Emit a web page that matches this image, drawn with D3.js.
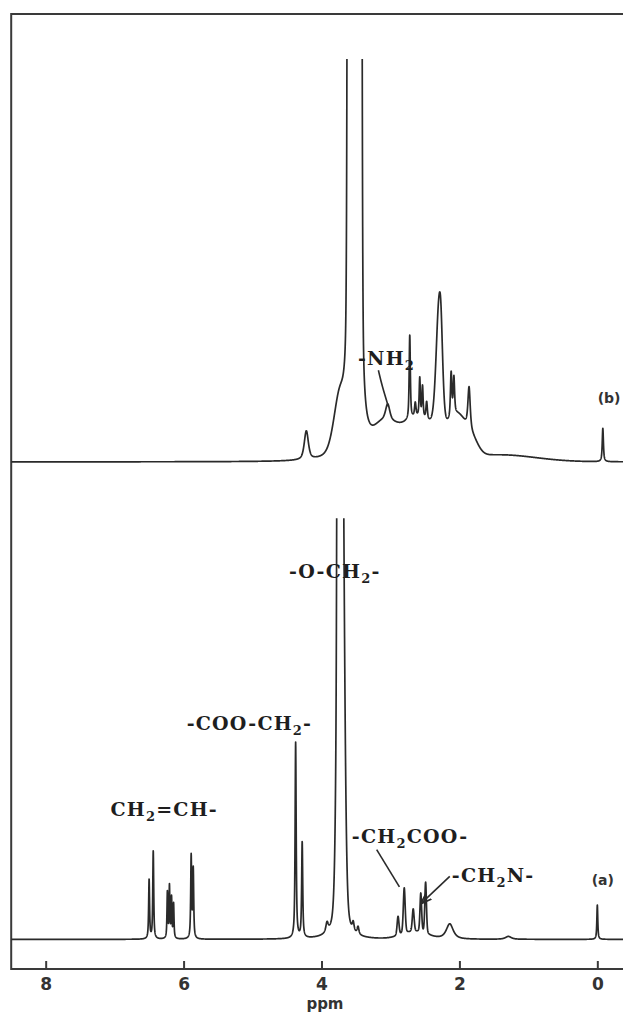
<!DOCTYPE html>
<html>
<head>
<meta charset="utf-8">
<script src="https://cdn.jsdelivr.net/npm/d3@7"></script>
<style>
  html, body { margin: 0; padding: 0; background: #fff; }
  svg { display: block; }
</style>
</head>
<body>
<svg id="chart" width="623" height="1014"></svg>
<script>
// ---- chart data -------------------------------------------------------
const shiftTicks = [8, 6, 4, 2, 0];
const axisTitle = "ppm";
const shiftRange = [8.5, -0.5];          // chemical-shift window of the recorder chart
const intensityRange = [0, 1000];        // arbitrary recorder units, bottom to top of chart

// Trace (a): monomer. Each line: [shift ppm, height, half width ppm, lorentzian fraction]
const peaksA = [
  [6.50, 62, 0.008, 0.8],
  [6.44, 92, 0.008, 0.8],
  [6.235, 48, 0.007, 0.8],
  [6.205, 54, 0.007, 0.8],
  [6.175, 42, 0.007, 0.8],
  [6.145, 36, 0.007, 0.8],
  [5.89, 86, 0.008, 0.8],
  [5.86, 72, 0.008, 0.8],
  [4.375, 205, 0.009, 0.8],
  [4.28, 100, 0.009, 0.8],
  [3.92, 10, 0.02, 0.8],
  [3.775, 240, 0.008, 0.8],
  [3.72, 850, 0.045, 0.2],
  [3.54, 9, 0.015, 0.8],
  [3.47, 8, 0.015, 0.8],
  [2.89, 20, 0.016, 0.3],
  [2.80, 48, 0.016, 0.3],
  [2.67, 24, 0.016, 0.3],
  [2.56, 41, 0.014, 0.3],
  [2.49, 54, 0.014, 0.3],
  [2.65, 7, 0.22, 0],
  [2.14, 16, 0.06, 0.8],
  [1.29, 3, 0.05, 0.8],
  [0.00, 36, 0.008, 0.8]
];
const baselineA = 31;
const ceilingA = 472;

// Trace (b): amine adduct
const peaksB = [
  [4.22, 30, 0.035, 0.6],
  [3.74, 55, 0.1, 0.3],
  [3.45, 5000, 0.02, 0.15],
  [3.52, 5000, 0.02, 0.15],
  [3.59, 5000, 0.02, 0.15],
  [3.10, 32, 0.2, 0],
  [3.04, 16, 0.035, 0.5],
  [2.60, 44, 0.3, 0],
  [2.72, 88, 0.01, 0.7],
  [2.64, 14, 0.012, 0.6],
  [2.575, 40, 0.01, 0.6],
  [2.535, 32, 0.01, 0.6],
  [2.475, 18, 0.012, 0.6],
  [2.31, 95, 0.045, 0.4],
  [2.27, 85, 0.035, 0.4],
  [2.02, 41, 0.16, 0],
  [2.12, 47, 0.012, 0.7],
  [2.08, 39, 0.012, 0.7],
  [1.86, 44, 0.02, 0.7],
  [1.80, 10, 0.1, 0],
  [1.40, 7, 0.6, 0],
  [-0.08, 35, 0.01, 0.8]
];
const baselineB = 531;
const ceilingB = 953;

// Group assignments: text ("_2" = subscript), left edge shift, baseline intensity
const assignments = [
  { text: "CH_2=CH-",   shift: 7.06, level: 160 },
  { text: "-COO-CH_2-", shift: 5.955, level: 250 },
  { text: "-O-CH_2-",   shift: 4.47, level: 409 },
  { text: "-CH_2COO-",  shift: 3.56, level: 132 },
  { text: "-CH_2N-",    shift: 2.11, level: 91 },
  { text: "-NH_2",      shift: 3.47, level: 632 }
];
// Leader lines from label to peak: [shift, intensity] pairs
const leaders = [
  { pts: [[3.175, 627], [3.12, 610], [3.03, 589]], arrow: false },
  { pts: [[3.20, 125], [2.87, 86]], arrow: false },
  { pts: [[2.14, 97], [2.55, 69]], arrow: true }
];
const traceTags = [
  { text: "(a)", shift: -0.08, level: 88 },
  { text: "(b)", shift: -0.17, level: 593 }
];

// ---- drawing ---------------------------------------------------------
const svg = d3.select("#chart");
const ink = "#2a2a2a";

const x = d3.scaleLinear().domain(shiftRange).range([11.2, 631.8]);
const y = d3.scaleLinear().domain(intensityRange).range([969, 14]);

function lineShape(d, w, eta) {
  const r = d / w;
  return eta / (1 + r * r) + (1 - eta) * Math.exp(-Math.LN2 * r * r);
}
function trace(peaks, base) {
  const step = 0.0015;
  const n = Math.round((shiftRange[0] - shiftRange[1]) / step);
  const out = [];
  for (let i = 0; i <= n; i++) {
    const s = shiftRange[0] - i * step;
    let v = base;
    for (const p of peaks) v += p[1] * lineShape(s - p[0], p[2], p[3]);
    out.push([s, v]);
  }
  return out;
}

const defs = svg.append("defs");
[["clipA", ceilingA], ["clipB", ceilingB]].forEach(([id, top]) => {
  defs.append("clipPath").attr("id", id)
    .append("rect")
    .attr("x", x(shiftRange[0])).attr("y", y(top))
    .attr("width", x(shiftRange[1]) - x(shiftRange[0]))
    .attr("height", y(0) - y(top));
});
defs.append("marker").attr("id", "head")
  .attr("viewBox", "0 0 10 10").attr("refX", 9).attr("refY", 5)
  .attr("markerWidth", 7).attr("markerHeight", 7).attr("orient", "auto")
  .append("path").attr("d", "M0,1.5 L10,5 L0,8.5").attr("fill", "none")
  .attr("stroke", ink).attr("stroke-width", 1.6);

// chart frame
svg.append("rect")
  .attr("x", x(shiftRange[0])).attr("y", y(intensityRange[1]))
  .attr("width", x(shiftRange[1]) - x(shiftRange[0]))
  .attr("height", y(intensityRange[0]) - y(intensityRange[1]))
  .attr("fill", "none").attr("stroke", "#3a3a3a").attr("stroke-width", 2);

const line = d3.line().x(d => x(d[0])).y(d => y(d[1]));

svg.append("path").datum(trace(peaksB, baselineB))
  .attr("clip-path", "url(#clipB)")
  .attr("d", line).attr("fill", "none").attr("stroke", ink)
  .attr("stroke-width", 1.7).attr("stroke-linejoin", "round");

svg.append("path").datum(trace(peaksA, baselineA))
  .attr("clip-path", "url(#clipA)")
  .attr("d", line).attr("fill", "none").attr("stroke", ink)
  .attr("stroke-width", 1.7).attr("stroke-linejoin", "round");

// shift axis
const axis = svg.append("g").attr("transform", `translate(0,${y(0)})`)
  .call(d3.axisBottom(x).tickValues(shiftTicks).tickFormat(d3.format("d"))
    .tickSizeInner(-8).tickSizeOuter(0).tickPadding(9));
axis.select(".domain").remove();
axis.selectAll(".tick line").attr("stroke", "#3a3a3a").attr("stroke-width", 2);
axis.selectAll(".tick text")
  .attr("fill", "#333").attr("font-family", "DejaVu Sans").attr("font-weight", "bold")
  .attr("font-size", 17);

svg.append("text")
  .attr("x", x(3.95)).attr("y", 1009)
  .attr("text-anchor", "middle")
  .attr("font-family", "DejaVu Sans").attr("font-weight", "bold").attr("font-size", 15)
  .attr("fill", "#333").text(axisTitle);

// assignment labels
assignments.forEach(a => {
  const t = svg.append("text")
    .attr("x", x(a.shift)).attr("y", y(a.level))
    .attr("font-family", "DejaVu Serif").attr("font-weight", "bold")
    .attr("font-size", 19).attr("letter-spacing", 1.2).attr("fill", "#1e1e1e");
  let lift = 0;
  a.text.split(/(_\d)/).filter(s => s.length).forEach(part => {
    if (part[0] === "_") {
      t.append("tspan").attr("font-size", 13).attr("dy", 5).text(part.slice(1));
      lift = -5;
    } else {
      t.append("tspan").attr("dy", lift || null).text(part);
      lift = 0;
    }
  });
});

const leaderLine = d3.line().x(d => x(d[0])).y(d => y(d[1])).curve(d3.curveBasis);
leaders.forEach(l => {
  svg.append("path").attr("d", leaderLine(l.pts))
    .attr("fill", "none").attr("stroke", ink).attr("stroke-width", 1.6)
    .attr("marker-end", l.arrow ? "url(#head)" : null);
});

traceTags.forEach(t => {
  svg.append("text")
    .attr("x", x(t.shift)).attr("y", y(t.level))
    .attr("text-anchor", "middle")
    .attr("font-family", "DejaVu Sans").attr("font-weight", "bold")
    .attr("font-size", 14).attr("fill", "#333").text(t.text);
});
</script>
</body>
</html>
